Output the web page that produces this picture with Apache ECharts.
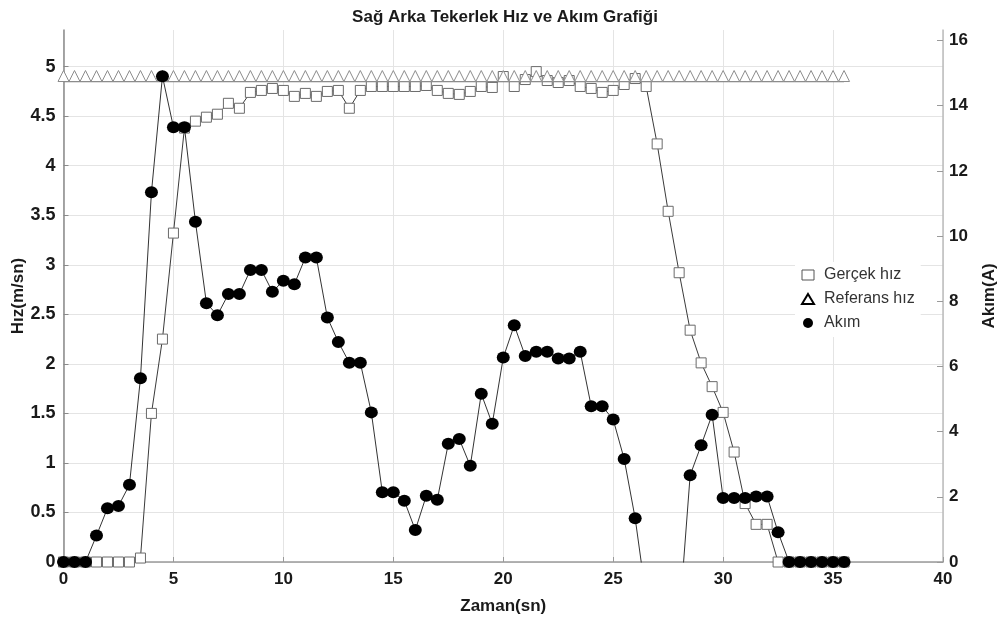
<!DOCTYPE html>
<html>
<head>
<meta charset="utf-8">
<script src="https://cdn.jsdelivr.net/npm/echarts@6/dist/echarts.min.js"></script>
<style>
  html, body { margin: 0; padding: 0; background: #fff; }
  #chart { width: 1003px; height: 623px; }
</style>
</head>
<body>
<div id="chart"></div>
<script>
// Örnekleme zamanları (sn)
const zaman = [
  0, 0.5, 1, 1.5, 2, 2.5, 3, 3.5, 4, 4.5, 5, 5.5, 6, 6.5, 7, 7.5, 8, 8.5, 9, 9.5,
  10, 10.5, 11, 11.5, 12, 12.5, 13, 13.5, 14, 14.5, 15, 15.5, 16, 16.5, 17, 17.5,
  18, 18.5, 19, 19.5, 20, 20.5, 21, 21.5, 22, 22.5, 23, 23.5, 24, 24.5, 25, 25.5,
  26, 26.5, 27, 27.5, 28, 28.5, 29, 29.5, 30, 30.5, 31, 31.5, 32, 32.5, 33, 33.5,
  34, 34.5, 35, 35.5
];

// Ölçülen tekerlek hızı (m/sn)
const gercekHiz = [
  0, 0, 0, 0, 0, 0, 0, 0.04, 1.50, 2.25, 3.32, 4.38, 4.45, 4.49, 4.52, 4.63, 4.58, 4.74, 4.76, 4.78,
  4.76, 4.70, 4.73, 4.70, 4.75, 4.76, 4.58, 4.76, 4.80, 4.80, 4.80, 4.80, 4.80, 4.81, 4.76, 4.73,
  4.72, 4.75, 4.80, 4.79, 4.90, 4.80, 4.87, 4.95, 4.86, 4.84, 4.86, 4.80, 4.78, 4.74, 4.76, 4.82,
  4.88, 4.80, 4.22, 3.54, 2.92, 2.34, 2.01, 1.77, 1.51, 1.11, 0.59, 0.38, 0.38, 0, 0, 0,
  0, 0, 0, 0
];

// Referans hız (m/sn)
const referansHiz = [
  4.85, 4.85, 4.85, 4.85, 4.85, 4.85, 4.85, 4.85, 4.85, 4.85, 4.85, 4.85, 4.85, 4.85, 4.85, 4.85, 4.85, 4.85, 4.85, 4.85,
  4.85, 4.85, 4.85, 4.85, 4.85, 4.85, 4.85, 4.85, 4.85, 4.85, 4.85, 4.85, 4.85, 4.85, 4.85, 4.85,
  4.85, 4.85, 4.85, 4.85, 4.85, 4.85, 4.85, 4.85, 4.85, 4.85, 4.85, 4.85, 4.85, 4.85, 4.85, 4.85,
  4.85, 4.85, 4.85, 4.85, 4.85, 4.85, 4.85, 4.85, 4.85, 4.85, 4.85, 4.85, 4.85, 4.85, 4.85, 4.85,
  4.85, 4.85, 4.85, 4.85
];

// Motor akımı (A); 26.5-28 sn arası eksen altında kalıyor
const akim = [
  0, 0, 0, 0.81, 1.65, 1.72, 2.37, 5.64, 11.34, 14.90, 13.34, 13.34, 10.44, 7.94, 7.57, 8.22, 8.22, 8.96, 8.96, 8.29,
  8.63, 8.52, 9.34, 9.34, 7.50, 6.75, 6.11, 6.11, 4.59, 2.14, 2.14, 1.88, 0.98, 2.03, 1.91, 3.63,
  3.77, 2.95, 5.16, 4.24, 6.27, 7.26, 6.32, 6.45, 6.45, 6.24, 6.24, 6.45, 4.78, 4.78, 4.37, 3.16,
  1.34, -1.1, -2.0, -2.0, -1.8, 2.66, 3.58, 4.52, 1.96, 1.96, 1.96, 2.01, 2.01, 0.91, 0, 0,
  0, 0, 0, 0
];

const FONT = '"Liberation Sans", Arial, sans-serif';
const pairs = (ys) => zaman.map((t, i) => [t, ys[i]]);

const chart = echarts.init(document.getElementById('chart'), null, { renderer: 'canvas' });

chart.setOption({
  animation: false,
  backgroundColor: '#fff',
  title: {
    text: 'Sağ Arka Tekerlek Hız ve Akım Grafiği',
    left: 500,
    top: 4,
    textAlign: 'center',
    textStyle: { fontFamily: FONT, fontSize: 17, fontWeight: 'bold', color: '#1a1a1a' }
  },
  grid: { left: 63.5, right: 60, top: 30, bottom: 61, containLabel: false, outerBoundsMode: 'none' },
  legend: {
    orient: 'vertical',
    left: 795,
    top: 262,
    padding: [5, 6, 6, 6],
    itemGap: 8,
    itemWidth: 12,
    itemHeight: 10,
    symbolKeepAspect: false,
    backgroundColor: '#fff',
    selectedMode: false,
    textStyle: { fontFamily: FONT, fontSize: 16, color: '#333', padding: [0, 0, 0, 5] },
    data: [
      { name: 'Gerçek hız', icon: 'rect', itemStyle: { color: '#fff', borderColor: '#555', borderWidth: 1 } },
      { name: 'Referans hız', icon: 'triangle', itemStyle: { color: '#fff', borderColor: '#000', borderWidth: 2 } },
      { name: 'Akım', icon: 'circle', itemStyle: { color: '#000', borderWidth: 0 } }
    ]
  },
  xAxis: {
    type: 'value',
    min: 0, max: 40, interval: 5,
    name: 'Zaman(sn)',
    nameLocation: 'middle',
    nameGap: 36,
    nameTextStyle: { fontFamily: FONT, fontSize: 17, fontWeight: 'bold', color: '#1a1a1a' },
    axisLine: { show: true, lineStyle: { color: '#9a9a9a', width: 1.5 } },
    axisTick: { show: true, inside: true, length: 5, lineStyle: { color: '#9a9a9a' } },
    axisLabel: { margin: 9, fontFamily: FONT, fontSize: 17, fontWeight: 'bold', color: '#1a1a1a' },
    splitLine: { show: true, lineStyle: { color: '#e4e4e4', width: 1 } }
  },
  yAxis: [
    {
      type: 'value',
      position: 'left',
      min: 0, max: 5.37, interval: 0.5,
      name: 'Hız(m/sn)',
      nameLocation: 'middle',
      nameRotate: 90,
      nameGap: 37,
      nameMoveOverlap: false,
      nameTextStyle: { fontFamily: FONT, fontSize: 17, fontWeight: 'bold', color: '#1a1a1a' },
      axisLine: { show: true, lineStyle: { color: '#8a8a8a', width: 1.5 } },
      axisTick: { show: true, inside: true, length: 5, lineStyle: { color: '#8a8a8a' } },
      axisLabel: { margin: 8, showMaxLabel: false, fontFamily: FONT, fontSize: 18, fontWeight: 'bold', color: '#1a1a1a' },
      splitLine: { show: true, showMaxLine: false, lineStyle: { color: '#e4e4e4', width: 1 } }
    },
    {
      type: 'value',
      position: 'right',
      min: 0, max: 16.32, interval: 2,
      name: 'Akım(A)',
      nameLocation: 'middle',
      nameRotate: 90,
      nameGap: 38,
      nameTextStyle: { fontFamily: FONT, fontSize: 17, fontWeight: 'bold', color: '#1a1a1a' },
      axisLine: { show: true, lineStyle: { color: '#bdbdbd', width: 1.5 } },
      axisTick: { show: true, inside: true, length: 6, lineStyle: { color: '#9a9a9a' } },
      axisLabel: { margin: 6, showMaxLabel: false, fontFamily: FONT, fontSize: 17, fontWeight: 'bold', color: '#1a1a1a' },
      splitLine: { show: false }
    }
  ],
  series: [
    {
      name: 'Gerçek hız',
      type: 'line',
      yAxisIndex: 0,
      data: pairs(gercekHiz),
      symbol: 'rect',
      symbolSize: 10,
      z: 2,
      itemStyle: { color: '#fff', borderColor: '#6a6a6a', borderWidth: 1 },
      lineStyle: { color: '#3a3a3a', width: 1 },
      emphasis: { disabled: true }
    },
    {
      name: 'Referans hız',
      type: 'line',
      yAxisIndex: 0,
      data: pairs(referansHiz),
      symbol: 'triangle',
      symbolSize: [11, 11],
      symbolOffset: [0, -5.5],
      z: 3,
      itemStyle: { color: '#fff', borderColor: '#8c8c8c', borderWidth: 1 },
      lineStyle: { color: '#8c8c8c', width: 1.5 },
      emphasis: { disabled: true }
    },
    {
      name: 'Akım',
      type: 'line',
      yAxisIndex: 1,
      data: pairs(akim),
      symbol: 'circle',
      symbolSize: [13, 12],
      z: 4,
      itemStyle: { color: '#000', borderWidth: 0 },
      lineStyle: { color: '#333', width: 1 },
      emphasis: { disabled: true }
    }
  ]
});
</script>
</body>
</html>
